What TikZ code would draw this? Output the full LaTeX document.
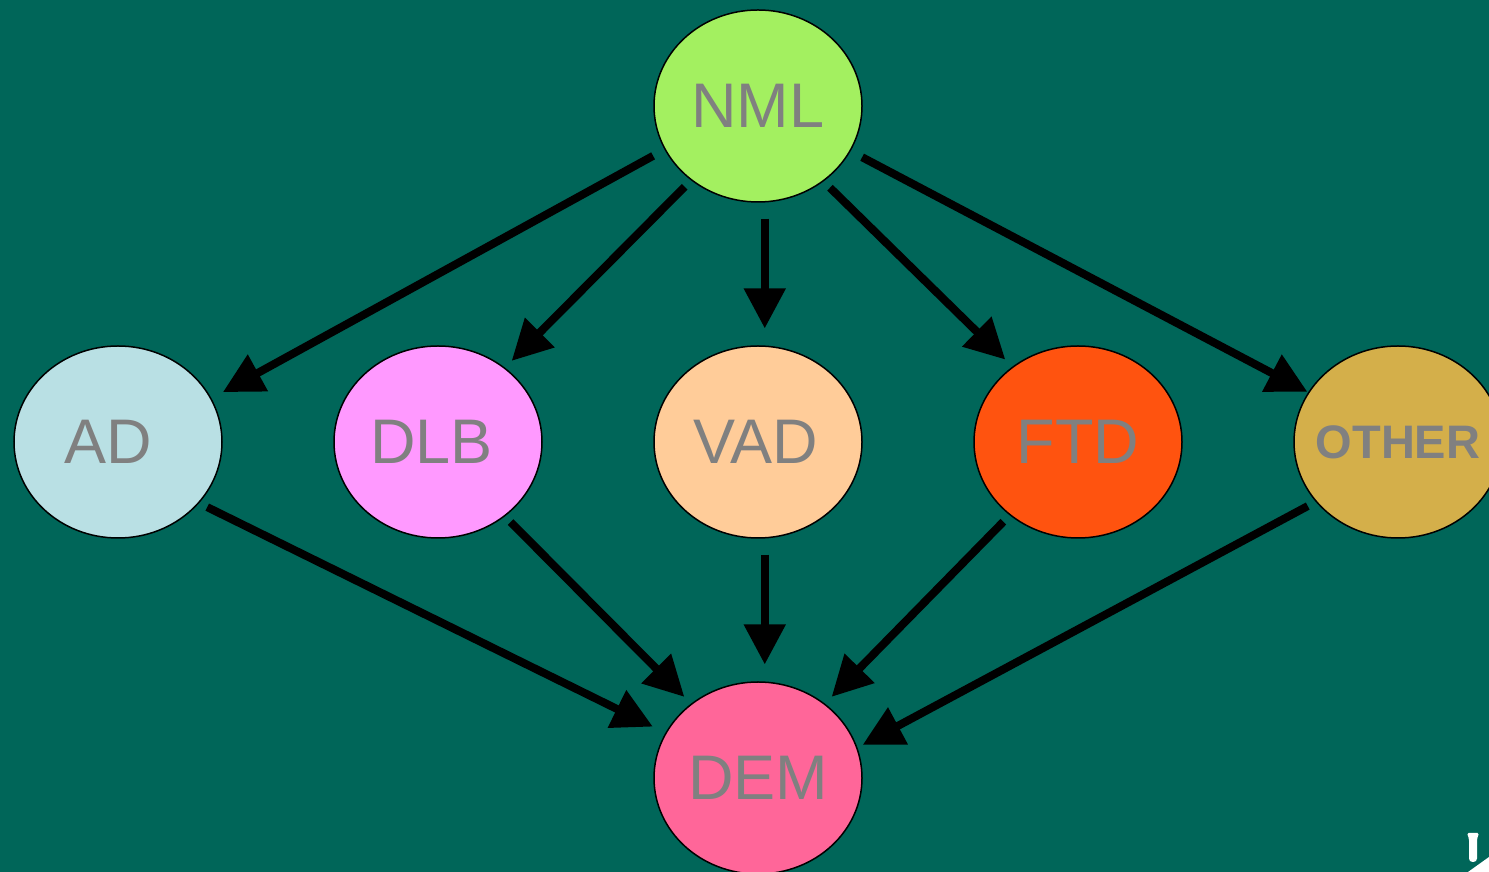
\documentclass[tikz,border=0pt]{standalone}
\usepackage{fontspec}
\setmainfont{Liberation Sans}
\usetikzlibrary{arrows.meta,shapes.geometric}
\definecolor{bgteal}{RGB}{0,102,89}
\definecolor{txtgray}{RGB}{128,128,128}
\definecolor{cNML}{RGB}{163,240,96}
\definecolor{cAD}{RGB}{185,224,228}
\definecolor{cDLB}{RGB}{255,153,255}
\definecolor{cVAD}{RGB}{255,204,153}
\definecolor{cFTD}{RGB}{255,83,15}
\definecolor{cOTHER}{RGB}{212,175,74}
\definecolor{cDEM}{RGB}{255,102,153}
\tikzset{
  bubble/.style={ellipse, draw=black, line width=1.5pt, minimum width=208pt,
    minimum height=192pt, inner sep=0pt, text=txtgray,
    font=\fontsize{63}{63}\selectfont},
  smallbubble/.style={bubble, font=\fontsize{47}{47}\selectfont\bfseries},
  flow/.style={draw=black, line width=8pt,
    -{Triangle[length=40pt,width=40pt]}}
}
\begin{document}
\begin{tikzpicture}[x=1pt,y=1pt]
  % canvas
  \fill[bgteal] (0,0) rectangle (1489,872);
  \useasboundingbox (0,0) rectangle (1489,872);

  % states
  \node[bubble, fill=cNML]   (nml)   at (758,766) {NML};
  \node[bubble, fill=cAD]    (ad)    at (118,430) {\kern-20pt AD};
  \node[bubble, fill=cDLB]   (dlb)   at (438,430) {\kern-13pt DLB};
  \node[bubble, fill=cVAD]   (vad)   at (758,430) {\kern-4pt VAD};
  \node[bubble, fill=cFTD]   (ftd)   at (1078,430) {FTD};
  \node[smallbubble, fill=cOTHER] (other) at (1398,430) {\makebox[0pt]{OTHER}};
  \node[bubble, fill=cDEM]   (dem)   at (758,94) {DEM};

  % transitions out of NML
  \draw[flow, shorten <=13pt, shorten >=13pt] (nml.205)   -- (ad.25.7);
  \draw[flow, shorten <=9pt,  shorten >=9.5pt] (nml.228.4) -- (dlb.48.7);
  \draw[flow, shorten <=16pt, shorten >=17pt] (nml.274.1) -- (vad.86);
  \draw[flow, shorten <=9pt,  shorten >=10pt] (nml.311.6) -- (ftd.131.7);
  \draw[flow, shorten <=13pt, shorten >=1pt]  (nml.334.8) -- (other.151.7);

  % transitions into DEM
  \draw[flow, shorten <=9pt,  shorten >=14pt]  (ad.323.9)    -- (dem.154.5);
  \draw[flow, shorten <=8pt,  shorten >=9.5pt] (dlb.312.7)   -- (dem.132);
  \draw[flow, shorten <=16pt, shorten >=17pt]  (vad.274)     -- (dem.86);
  \draw[flow, shorten <=9pt,  shorten >=9.5pt] (ftd.227.6)   -- (dem.48);
  \draw[flow, shorten <=9pt,  shorten >=6pt]   (other.216.1) -- (dem.17.6);

  % corner marker
  \fill[white, rounded corners=1.5pt] (1467,39) -- (1479,39) -- (1477,33)
    -- (1477,12) -- (1475,10) -- (1471,10) -- (1469,12) -- (1469,33) -- cycle;
  \fill[white] (1468,0) -- (1489,0) -- (1489,15) -- cycle;
\end{tikzpicture}
\end{document}
